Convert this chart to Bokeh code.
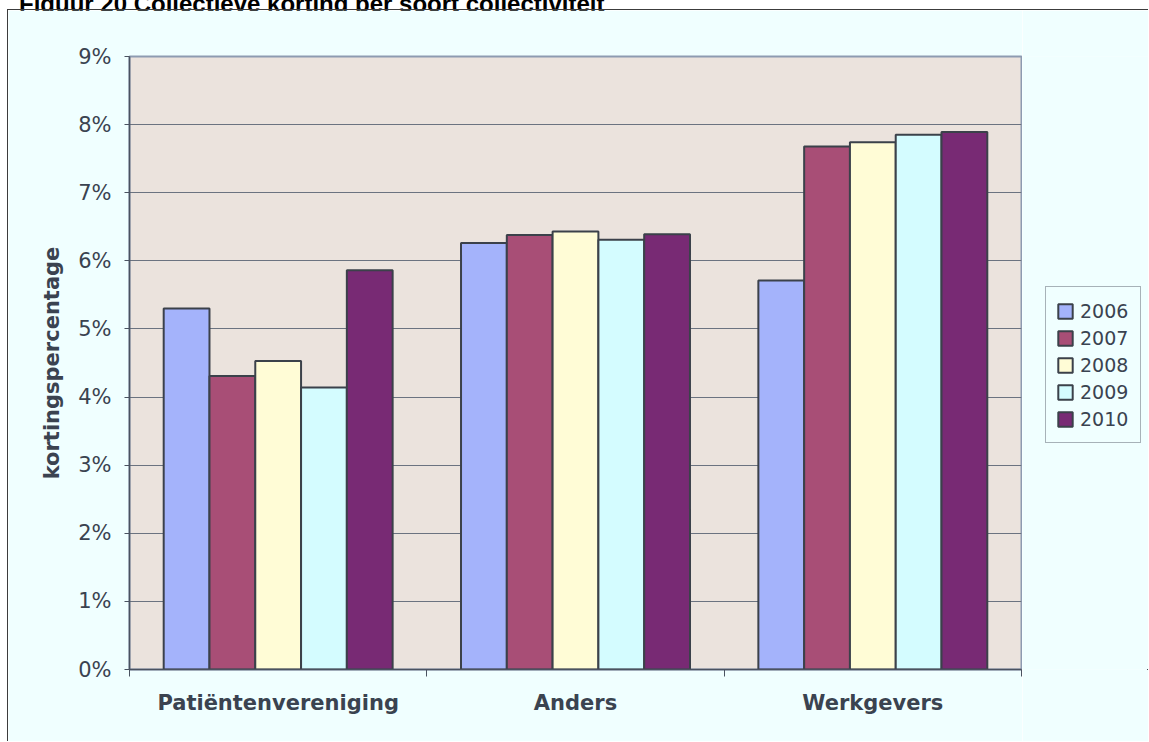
from bokeh.plotting import figure
from bokeh.models import (Range1d, FixedTicker, Legend, LegendItem, ColumnDataSource, Div)
from bokeh.layouts import column, row
from bokeh.embed import file_html
from bokeh.resources import INLINE

title_text = "Figuur 20 Collectieve korting per soort collectiviteit"
y_title = "kortingspercentage"
categories = ["Patiëntenvereniging", "Anders", "Werkgevers"]
years = ["2006", "2007", "2008", "2009", "2010"]
v2006 = [5.30, 6.26, 5.71]
v2007 = [4.31, 6.38, 7.68]
v2008 = [4.53, 6.43, 7.74]
v2009 = [4.14, 6.31, 7.85]
v2010 = [5.86, 6.39, 7.89]
series = [v2006, v2007, v2008, v2009, v2010]
y_ticks = [0, 1, 2, 3, 4, 5, 6, 7, 8, 9]
y_tick_labels = ["0%", "1%", "2%", "3%", "4%", "5%", "6%", "7%", "8%", "9%"]
colors = ["#a4b3fb", "#a84e76", "#fffcd6", "#d4fcff", "#782a74"]

TXT = "#3a4350"
FONT = "DejaVu Sans"
BG = "#f0ffff"
H = 732
W_MAIN = 1015
W_LEG = 1141 - W_MAIN

p = figure(width=W_MAIN, height=H, output_backend="svg", toolbar_location=None,
           x_range=Range1d(0, len(categories)), y_range=Range1d(0, 9),
           min_border_left=121, min_border_right=2, min_border_top=46, min_border_bottom=73)
p.background_fill_color = "#ebe3dd"
p.border_fill_color = BG
p.outline_line_color = "#8d9bb1"
p.outline_line_width = 2

# legend panel (separate figure so the legend sits beside the plot area);
# its ranges keep the swatch renderers fully out of view
pl = figure(width=W_LEG, height=H, output_backend="svg", toolbar_location=None,
            x_range=Range1d(-10, -9), y_range=Range1d(20, 21),
            x_axis_location=None, y_axis_location=None, min_border=0)
pl.background_fill_color = BG
pl.border_fill_color = BG
pl.outline_line_color = None
pl.outline_line_alpha = 0
pl.grid.visible = False

bar_w = 0.154
n = len(years)
leg_renderers = []
for j, (yr, vals, col) in enumerate(zip(years, series, colors)):
    off = (j - (n - 1) / 2) * bar_w
    xs = [i + 0.5 + off for i in range(len(categories))]
    src = ColumnDataSource(dict(x=xs, top=vals))
    kw = dict(x="x", top="top", bottom=0, width=bar_w, source=src,
              fill_color=col, line_color="#3b414a", line_width=2)
    p.vbar(**kw)
    leg_renderers.append(pl.vbar(**kw))

# y axis
p.yaxis.ticker = FixedTicker(ticks=y_ticks)
p.yaxis.major_label_overrides = {t: l for t, l in zip(y_ticks, y_tick_labels)}
p.yaxis.major_label_text_font = FONT
p.yaxis.major_label_text_font_size = "21px"
p.yaxis.major_label_text_color = TXT
p.yaxis.major_tick_in = 0
p.yaxis.major_tick_out = 5
p.yaxis.minor_tick_line_color = None
p.yaxis.major_label_standoff = 13
p.yaxis.axis_line_color = "#4a5260"
p.yaxis.axis_line_width = 1.5
p.yaxis.major_tick_line_color = "#4a5260"
p.yaxis.axis_label = y_title
p.yaxis.axis_label_text_font = FONT
p.yaxis.axis_label_text_font_style = "bold"
p.yaxis.axis_label_text_font_size = "21px"
p.yaxis.axis_label_text_color = TXT
p.yaxis.axis_label_standoff = 11

# x axis
centers = [i + 0.5 for i in range(len(categories))]
bounds = [i for i in range(len(categories) + 1)]
p.xaxis.ticker = FixedTicker(ticks=centers, minor_ticks=bounds)
p.xaxis.major_label_overrides = {c: l for c, l in zip(centers, categories)}
p.xaxis.major_label_text_font = FONT
p.xaxis.major_label_text_font_style = "bold"
p.xaxis.major_label_text_font_size = "21px"
p.xaxis.major_label_text_color = TXT
p.xaxis.major_tick_in = 0
p.xaxis.major_tick_out = 0
p.xaxis.minor_tick_in = 0
p.xaxis.minor_tick_out = 7
p.xaxis.minor_tick_line_color = "#4a5260"
p.xaxis.major_label_standoff = 14
p.xaxis.axis_line_color = "#4a5260"
p.xaxis.axis_line_width = 1.5

p.xgrid.grid_line_color = None
p.ygrid.ticker = FixedTicker(ticks=y_ticks)
p.ygrid.grid_line_color = "#6b7380"
p.ygrid.grid_line_width = 1

legend = Legend(items=[LegendItem(label=yr, renderers=[r]) for yr, r in zip(years, leg_renderers)],
                location=(23, 226), margin=0, padding=10, spacing=0,
                glyph_width=18, glyph_height=18, label_height=27, label_width=50,
                label_standoff=6,
                label_text_font=FONT, label_text_font_size="19px", label_text_color=TXT,
                border_line_color="#5e6672", border_line_width=1,
                background_fill_color=BG, background_fill_alpha=1)
pl.add_layout(legend)

title = Div(text=('<div style="position:absolute; left:7px; top:-12px; white-space:nowrap; '
                  'font-family:\'Liberation Sans\'; font-weight:bold; font-size:24px; line-height:24px; color:#000;">'
                  + title_text + '</div>'),
            width=1141, height=0, styles={"overflow": "visible", "position": "relative"})

p.styles = {"border-left": "1px solid #3c3c3c", "border-top": "1px solid #3c3c3c"}
pl.styles = {"border-top": "1px solid #3c3c3c"}
body = row(p, pl, spacing=0)
layout = column(title, body, spacing=0)
layout.styles = {"margin-left": "7px", "margin-top": "-1px"}

open("out.html", "w").write(file_html(layout, INLINE))
